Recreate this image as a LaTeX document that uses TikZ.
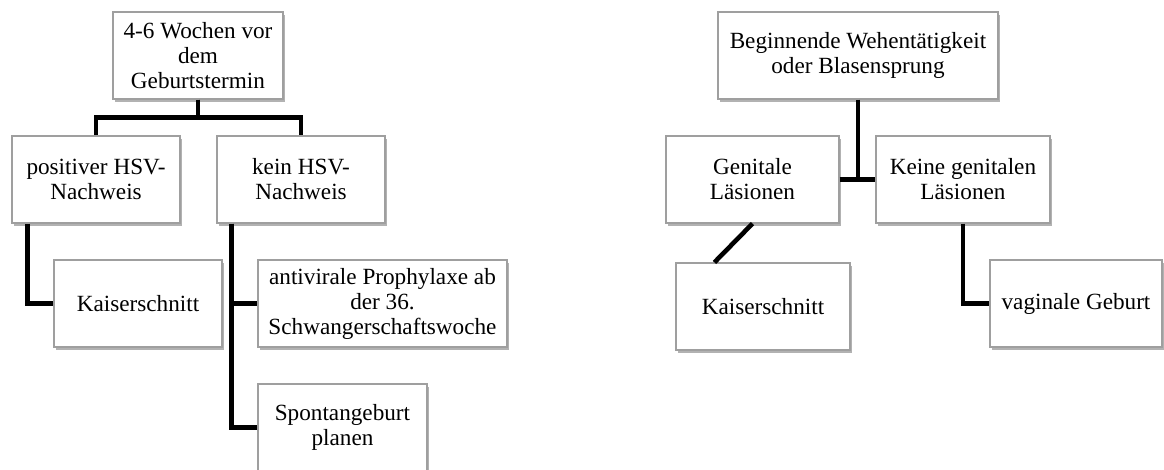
\documentclass[tikz,border=0pt]{standalone}
\usepackage{fontspec}
\setmainfont{Liberation Serif}
\usetikzlibrary{shadows}
\tikzset{
  box/.style={draw=gray!75, fill=white, line width=0.6pt, align=center, minimum height=43.5pt, inner sep=2pt,
    font=\fontsize{11.6}{12.5}\selectfont,
    drop shadow={shadow xshift=1.2pt, shadow yshift=-1.4pt, opacity=0.3, fill=black}},
  link/.style={line width=2.3pt}
}
\begin{document}
\begin{tikzpicture}[x=0.5pt, y=-0.5pt, node distance=62pt]
	\useasboundingbox (0,0) rectangle (1164,470);
	\node[box, minimum width=85pt](Termin)		at (198,55.5)							{4-6 Wochen vor\\dem\\Geburtstermin};
	\node[box, minimum width=84pt](Positiv)		[below of=Termin, xshift=-51pt]			{positiver HSV-\\Nachweis};
	\node[box, minimum width=84pt](KeinHSV)		[below of=Termin, xshift=51.5pt]		{kein HSV-\\Nachweis};
	\node[box, minimum width=84pt](Kaiser)		[below of=Positiv, xshift=21pt]			{Kaiserschnitt};
	\node[box, minimum width=124.5pt](Prophylaxe)	[below of=KeinHSV, xshift=40.75pt]		{antivirale Prophylaxe ab\\der 36.\\Schwangerschaftswoche};
	\node[box, minimum width=84.5pt](Spontan)	[below of=Prophylaxe, xshift=-20pt]		{Spontangeburt\\planen};
	\draw[link](Termin.south)	-- ++(0,18) -| (Positiv.north);
	\draw[link](Termin.south)	-- ++(0,18) -| (KeinHSV.north);
	\draw[link]([xshift=8pt]Positiv.south west)		|- (Kaiser.west);
	\draw[link]([xshift=7.5pt]KeinHSV.south west)	|- (Prophylaxe.west);
	\draw[link]([xshift=7.5pt]KeinHSV.south west)	|- (Spontan.west);

	\node[box, minimum width=140pt](Wehen)		at (858,55.5)							{Beginnende Wehentätigkeit\\oder Blasensprung};
	\node[box, minimum width=86.5pt](Genital)	[below of=Wehen, xshift=-52.75pt]		{Genitale\\Läsionen};
	\node[box, minimum width=87pt](KeineGen)	[below of=Wehen, xshift=52.5pt]			{Keine genitalen\\Läsionen};
	\node[box, minimum width=87pt](KaiserZwei)	[below of=Genital, xshift=5.25pt, yshift=-1.5pt]	{Kaiserschnitt};
	\node[box, minimum width=86pt](Vaginal)		[below of=KeineGen, xshift=56.5pt]		{vaginale Geburt};
	\draw[link](Genital.east)	-- (KeineGen.west);
	\draw[link](Wehen.south)	-- (Wehen.south |- Genital.east);
	\draw[link](Genital.south)	-- ([xshift=19.5pt]KaiserZwei.north west);
	\draw[link](KeineGen.south)	|- (Vaginal.west);
\end{tikzpicture}
\end{document}
